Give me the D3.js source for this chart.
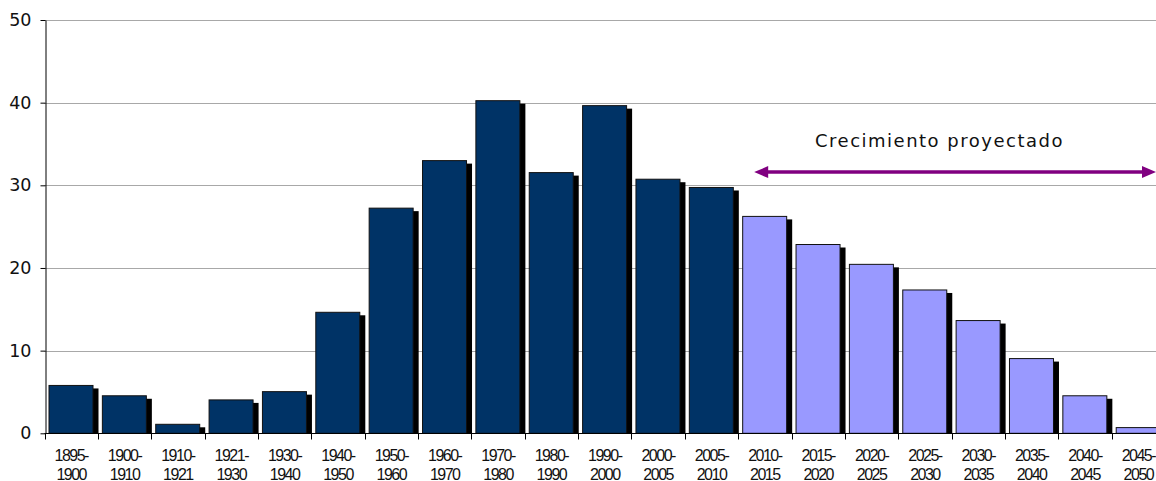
<!DOCTYPE html>
<html>
<head>
<meta charset="utf-8">
<script src="https://cdn.jsdelivr.net/npm/d3@7"></script>
<style>
html,body{margin:0;padding:0;background:#fff;overflow:hidden;}
svg{display:block;}
</style>
</head>
<body>
<svg id="chart" width="1156" height="481"></svg>
<script>
const categories = ["1895-1900","1900-1910","1910-1921","1921-1930","1930-1940","1940-1950","1950-1960","1960-1970","1970-1980","1980-1990","1990-2000","2000-2005","2005-2010","2010-2015","2015-2020","2020-2025","2025-2030","2030-2035","2035-2040","2040-2045","2045-2050"];
const historicValues = [5.85,4.6,1.15,4.1,5.1,14.7,27.3,33.05,40.3,31.6,39.7,30.8,29.8];
const projectedValues = [26.3,22.9,20.5,17.4,13.7,9.1,4.6,0.75];
const yTicks = [0,10,20,30,40,50];
const annotationText = "Crecimiento proyectado";
const arrowValue = 31.6;

const values = historicValues.concat(projectedValues);
const data = categories.map((c,i)=>({cat:c, value:values[i], projected: i>=historicValues.length}));

const svg = d3.select("#chart");
const left = 44.5, step = 53.36;
const xb = d3.scaleBand().domain(categories).range([left, left + step*categories.length]);
const y = d3.scaleLinear().domain([0,50]).range([433.3,20]);

// gridlines
svg.append("g").selectAll("line").data(yTicks.filter(t=>t>0)).join("line")
  .attr("x1", left).attr("x2", 1156)
  .attr("y1", d=>Math.round(y(d))+0.5).attr("y2", d=>Math.round(y(d))+0.5)
  .attr("stroke","#a8a8a8").attr("stroke-width",1);

// bars
const bw = 45;
const bars = svg.append("g");
bars.selectAll("rect.shadow").data(data).join("rect").attr("class","shadow")
  .attr("x", d=>xb(d.cat)+4+5)
  .attr("y", d=>y(d.value)+3.5)
  .attr("width", bw)
  .attr("height", d=>Math.max(0, y(0)-y(d.value)-3.5))
  .attr("fill","#000");
bars.selectAll("rect.bar").data(data).join("rect").attr("class","bar")
  .attr("x", d=>xb(d.cat)+4.5)
  .attr("y", d=>y(d.value)+0.5)
  .attr("width", bw-1)
  .attr("height", d=>y(0)-y(d.value)-0.5)
  .attr("fill", d=>d.projected ? "#9999ff" : "#003366")
  .attr("stroke","#111").attr("stroke-width",1);

// y axis
const yAxis = svg.append("g").attr("transform",`translate(${Math.round(left)+0.5},0)`)
  .call(d3.axisLeft(y).tickValues(yTicks).tickSize(5).tickSizeOuter(0).tickPadding(9));
yAxis.select(".domain").attr("stroke","#000");
yAxis.selectAll(".tick line").attr("stroke","#000");
yAxis.selectAll("text").attr("font-family","DejaVu Sans, Verdana, sans-serif").attr("font-size","17.5px").attr("fill","#111");

// x axis
const xAxisG = svg.append("g").attr("transform",`translate(0,${Math.round(y(0))+0.5})`);
xAxisG.append("line").attr("x1", left).attr("x2", 1156).attr("y1",0).attr("y2",0).attr("stroke","#000");
const boundaries = categories.map(c=>xb(c)).concat([xb(categories[categories.length-1])+xb.bandwidth()]);
xAxisG.selectAll("line.tk").data(boundaries).join("line").attr("class","tk")
  .attr("x1", d=>Math.round(d)+0.5).attr("x2", d=>Math.round(d)+0.5)
  .attr("y1",0).attr("y2",6).attr("stroke","#000");
const lbl = xAxisG.selectAll("text").data(categories).join("text")
  .attr("text-anchor","middle")
  .attr("font-family","Liberation Sans, Arial, sans-serif")
  .attr("font-size","16px").attr("letter-spacing","-1.5px")
  .attr("fill","#111")
  .attr("transform", d=>`translate(${xb(d)+xb.bandwidth()/2},0)`);
lbl.append("tspan").attr("x",0).attr("y",27.5).text(d=>d.split("-")[0]+"-");
lbl.append("tspan").attr("x",0).attr("y",46).text(d=>d.split("-")[1]);

// annotation arrow
const purple = "#800080";
const ax1 = xb(categories[historicValues.length]) + 16;
const ax2 = 1156;
const ay = y(arrowValue);
const headL = 14, headH = 6;
svg.append("line").attr("x1", ax1+headL-2).attr("x2", ax2-headL+2).attr("y1", ay).attr("y2", ay)
  .attr("stroke", purple).attr("stroke-width", 3.5);
svg.append("path").attr("d", `M${ax1},${ay} L${ax1+headL},${ay-headH} L${ax1+headL},${ay+headH} Z`).attr("fill", purple);
svg.append("path").attr("d", `M${ax2},${ay} L${ax2-headL},${ay-headH} L${ax2-headL},${ay+headH} Z`).attr("fill", purple);

svg.append("text").attr("x", 815).attr("y", 147)
  .attr("font-family","DejaVu Sans, Verdana, sans-serif").attr("font-size","18px")
  .attr("letter-spacing","1.5px").attr("fill","#111")
  .text(annotationText);
</script>
</body>
</html>
